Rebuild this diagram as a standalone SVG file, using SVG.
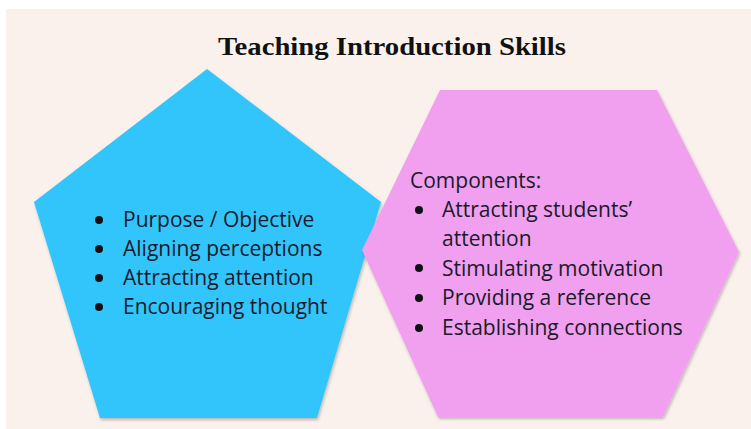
<svg xmlns="http://www.w3.org/2000/svg" width="751" height="429" viewBox="0 0 751 429">
<style>
.title{font-family:"Liberation Serif","DejaVu Serif",serif;font-weight:bold;font-size:25px;fill:#111;}
.t{font-family:"Open Sans","Noto Sans",sans-serif;font-size:21px;fill:#1a1a2a;}
.b{fill:#111;}
</style>
<defs>
<filter id="sh" x="-10%" y="-10%" width="120%" height="120%">
<feDropShadow dx="1" dy="2" stdDeviation="1.5" flood-color="#000" flood-opacity="0.25"/>
</filter>
</defs>
<rect x="0" y="0" width="751" height="429" fill="#ffffff"/>
<rect x="6" y="9" width="745" height="420" fill="#faf1ec"/>
<text class="title" x="392" y="55" text-anchor="middle" textLength="348" lengthAdjust="spacingAndGlyphs">Teaching Introduction Skills</text>
<g id="pentagon">
<polygon points="207,69 381,202 317,418 100,418 34,202" fill="#33c5fc" filter="url(#sh)"/>
<circle class="b" cx="99" cy="220" r="4"/>
<circle class="b" cx="99" cy="249" r="4"/>
<circle class="b" cx="99" cy="278" r="4"/>
<circle class="b" cx="99" cy="307" r="4"/>
<text class="t" x="123" y="227">Purpose / Objective</text>
<text class="t" x="123" y="256">Aligning perceptions</text>
<text class="t" x="123" y="285">Attracting attention</text>
<text class="t" x="123" y="314">Encouraging thought</text>
</g>
<g id="hexagon">
<polygon points="440,90 657,90 739,252 663,417 438,417 362,250" fill="#f0a0ee" filter="url(#sh)"/>
<text class="t" x="410" y="188">Components:</text>
<circle class="b" cx="419" cy="210" r="4"/>
<circle class="b" cx="419" cy="268" r="4"/>
<circle class="b" cx="419" cy="298" r="4"/>
<circle class="b" cx="419" cy="328" r="4"/>
<text class="t" x="442" y="217">Attracting students’</text>
<text class="t" x="442" y="246">attention</text>
<text class="t" x="442" y="276">Stimulating motivation</text>
<text class="t" x="442" y="305">Providing a reference</text>
<text class="t" x="442" y="335">Establishing connections</text>
</g>
</svg>
